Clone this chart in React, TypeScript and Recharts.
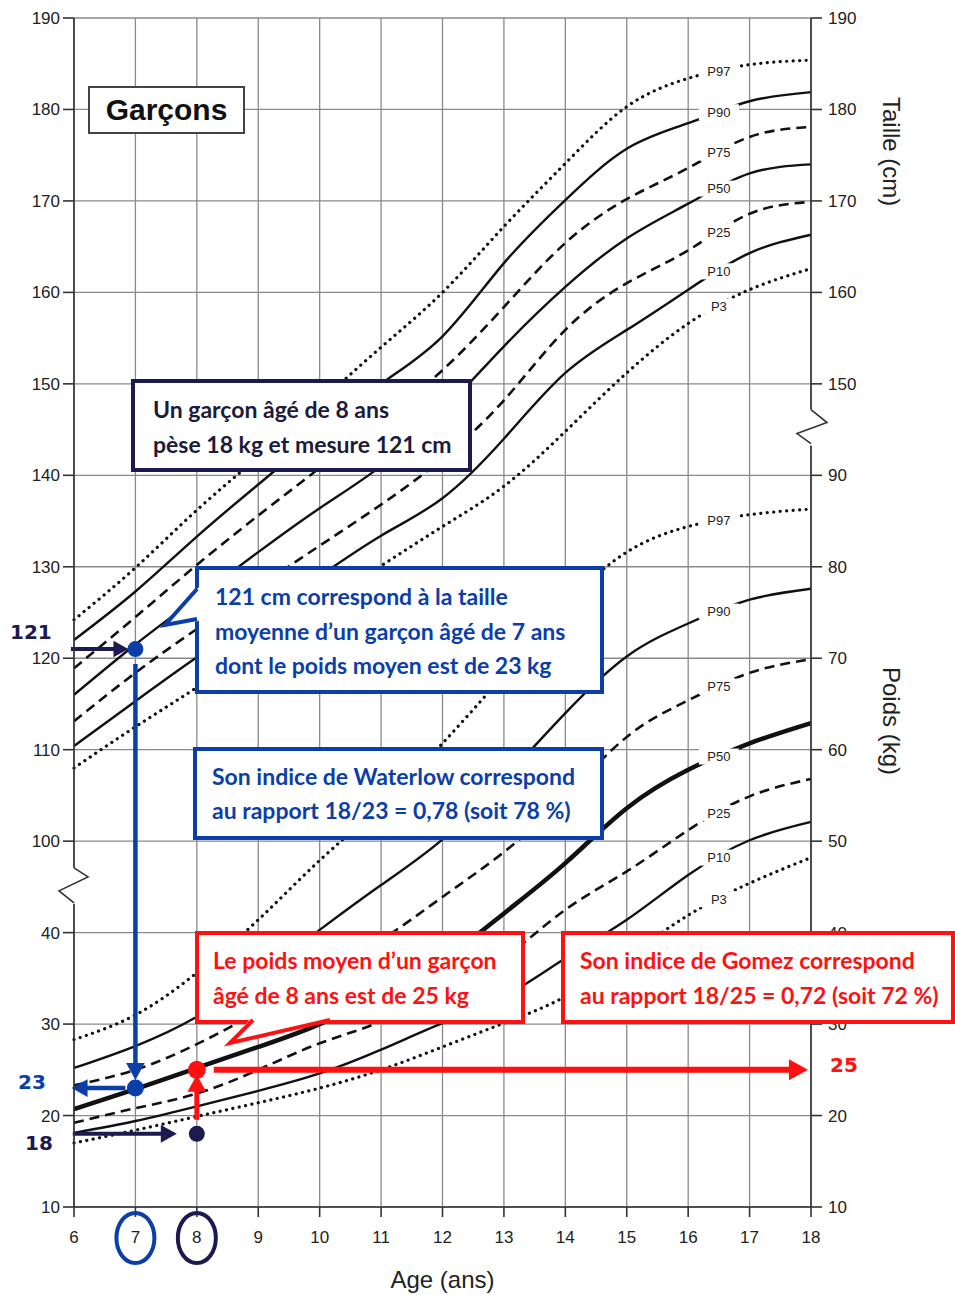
import React from 'react';
import { LineChart, Line, XAxis, YAxis, CartesianGrid, ReferenceLine, ReferenceDot } from 'recharts';

const ages = [6, 7, 8, 9, 10, 11, 12, 13, 14, 15, 16, 17, 18];

const tailleP97 = [124.2, 129.9, 136.2, 142.0, 148.0, 154.0, 160.0, 167.2, 174.1, 180.3, 183.4, 184.9, 185.4];
const tailleP90 = [122.0, 127.3, 133.3, 139.0, 144.6, 150.0, 155.2, 163.2, 170.1, 175.7, 178.5, 180.9, 181.9];
const tailleP75 = [118.9, 124.5, 130.2, 135.6, 140.8, 146.0, 151.5, 158.4, 165.4, 170.2, 173.6, 177.0, 178.1];
const tailleP50 = [116.0, 121.5, 126.6, 131.6, 136.4, 141.0, 147.0, 154.1, 160.6, 165.9, 169.7, 173.0, 174.0];
const tailleP25 = [113.1, 118.4, 123.2, 127.8, 132.3, 136.8, 141.8, 148.2, 155.9, 161.0, 164.6, 168.6, 169.9];
const tailleP10 = [110.4, 115.3, 120.1, 124.6, 129.0, 133.4, 137.5, 144.0, 151.2, 155.9, 160.3, 164.3, 166.3];
const tailleP3 = [108.0, 112.5, 116.8, 121.3, 125.8, 130.1, 134.4, 138.8, 144.8, 151.2, 156.6, 160.3, 162.6];

const poidsP97 = [28.3, 31.0, 35.6, 41.4, 47.9, 53.9, 60.7, 68.2, 75.8, 81.6, 84.4, 85.7, 86.3];
const poidsP90 = [25.2, 27.6, 30.8, 35.3, 40.3, 45.2, 50.2, 56.8, 64.0, 70.2, 73.8, 76.4, 77.6];
const poidsP75 = [23.3, 25.0, 27.8, 31.4, 35.4, 39.2, 43.9, 48.8, 54.8, 61.4, 65.4, 68.4, 69.9];
const poidsP50 = [20.7, 22.9, 25.2, 27.5, 30.0, 33.3, 37.0, 42.1, 47.6, 53.6, 57.8, 60.7, 62.9];
const poidsP25 = [19.2, 20.8, 22.4, 25.0, 27.9, 30.3, 33.7, 37.3, 42.5, 46.7, 51.2, 54.9, 56.8];
const poidsP10 = [18.1, 19.4, 21.0, 22.7, 24.6, 27.2, 30.1, 33.0, 37.2, 41.4, 46.3, 50.1, 52.1];
const poidsP3 = [17.0, 18.4, 19.9, 21.4, 23.0, 25.0, 27.5, 30.1, 33.0, 37.3, 41.9, 45.4, 48.2];

const leftTicks = ['10', '20', '30', '40', '100', '110', '120', '130', '140', '150', '160', '170', '180', '190'];
const rightTicks = ['10', '20', '30', '40', '50', '60', '70', '80', '90', '150', '160', '170', '180', '190'];

// l'exemple
const ageEnfant = 8;
const poidsEnfant = 18;
const tailleEnfant = 121;
const ageTaille = 7;
const poidsAgeTaille = 23;
const poidsMoyenAge = 25;

// the axis is broken: one grid row = 10 units, cm above the break, kg below
const tRow = (cm: number) => (cm - 100) / 10 + 4;
const pRow = (kg: number) => (kg - 10) / 10;

const NAVY = '#1d1a4f';
const BLUE = '#0b3ea8';
const RED = '#ff1111';
const INK = '#111';

type Kind = 'dot' | 'dash' | 'solid' | 'bold';
const series: { key: string; label: string; vals: number[]; kind: Kind; row: (v: number) => number }[] = [
  { key: 't97', label: 'P97', vals: tailleP97, kind: 'dot', row: tRow },
  { key: 't90', label: 'P90', vals: tailleP90, kind: 'solid', row: tRow },
  { key: 't75', label: 'P75', vals: tailleP75, kind: 'dash', row: tRow },
  { key: 't50', label: 'P50', vals: tailleP50, kind: 'solid', row: tRow },
  { key: 't25', label: 'P25', vals: tailleP25, kind: 'dash', row: tRow },
  { key: 't10', label: 'P10', vals: tailleP10, kind: 'solid', row: tRow },
  { key: 't3', label: 'P3', vals: tailleP3, kind: 'dot', row: tRow },
  { key: 'p97', label: 'P97', vals: poidsP97, kind: 'dot', row: pRow },
  { key: 'p90', label: 'P90', vals: poidsP90, kind: 'solid', row: pRow },
  { key: 'p75', label: 'P75', vals: poidsP75, kind: 'dash', row: pRow },
  { key: 'p50', label: 'P50', vals: poidsP50, kind: 'bold', row: pRow },
  { key: 'p25', label: 'P25', vals: poidsP25, kind: 'dash', row: pRow },
  { key: 'p10', label: 'P10', vals: poidsP10, kind: 'solid', row: pRow },
  { key: 'p3', label: 'P3', vals: poidsP3, kind: 'dot', row: pRow },
];

const data = ages.map((age, i) => {
  const d: { [k: string]: number } = { age };
  series.forEach(s => { d[s.key] = s.row(s.vals[i]); });
  return d;
});

const lineStyle = (kind: Kind) => {
  if (kind === 'dot') return { strokeWidth: 3.2, strokeDasharray: '0.1 6.4', strokeLinecap: 'round' as const };
  if (kind === 'dash') return { strokeWidth: 2.6, strokeDasharray: '10 6' };
  if (kind === 'bold') return { strokeWidth: 4.5 };
  return { strokeWidth: 2.4 };
};

const arrow = (color: string, width: number, head: number, trimStart: number, trimEnd: number) => (p: any) => {
  const { x1, y1, x2, y2 } = p;
  const dx = x2 - x1, dy = y2 - y1;
  const len = Math.hypot(dx, dy) || 1;
  const ux = dx / len, uy = dy / len;
  const sx = x1 + ux * trimStart, sy = y1 + uy * trimStart;
  const ex = x2 - ux * trimEnd, ey = y2 - uy * trimEnd;
  const bx = ex - ux * head, by = ey - uy * head;
  const hw = head * 0.55;
  return (
    <g>
      <line x1={sx} y1={sy} x2={bx + ux} y2={by + uy} stroke={color} strokeWidth={width} />
      <polygon points={`${ex},${ey} ${bx - uy * hw},${by + ux * hw} ${bx + uy * hw},${by - ux * hw}`} fill={color} />
    </g>
  );
};

const leftBreak = (p: any) => {
  const { cx, cy } = p;
  return (
    <g>
      <rect x={cx - 5} y={cy - 19} width={10} height={36} fill="#fff" />
      <path d={`M${cx},${cy - 19} L${cx + 14},${cy - 10} L${cx - 15},${cy + 4} L${cx},${cy + 16}`} fill="none" stroke="#333" strokeWidth={1.6} />
    </g>
  );
};

const rightBreak = (p: any) => {
  const { cx, cy } = p;
  return (
    <g>
      <rect x={cx - 5} y={cy - 20} width={10} height={36} fill="#fff" />
      <path d={`M${cx},${cy - 20} L${cx + 16},${cy - 7} L${cx - 14},${cy + 4} L${cx},${cy + 14}`} fill="none" stroke="#333" strokeWidth={1.6} />
    </g>
  );
};

const curveLabel = (text: string) => (p: any) => (
  <g>
    <rect x={p.cx - 20} y={p.cy - 8} width={40} height={16} fill="#fff" />
    <text x={p.cx} y={p.cy} dy="0.36em" textAnchor="middle" fontSize={13} fill="#222">{text}</text>
  </g>
);

const AgeTick = (props: any) => {
  const { x, y, payload } = props;
  const v = payload.value;
  return (
    <g>
      {v === ageTaille && <ellipse cx={x} cy={y + 7} rx={19} ry={25} fill="none" stroke={BLUE} strokeWidth={4} />}
      {v === ageEnfant && <ellipse cx={x} cy={y + 7} rx={19} ry={25} fill="none" stroke={NAVY} strokeWidth={4} />}
      <text x={x} y={y} dy="0.71em" textAnchor="middle" fontSize={17} fill="#222">{v}</text>
    </g>
  );
};

const rows = leftTicks.map((_, i) => i);
const i16 = ages.indexOf(16);

const boxText: React.CSSProperties = {
  position: 'absolute',
  boxSizing: 'border-box',
  background: '#fff',
  fontFamily: 'Lato, "Open Sans", sans-serif',
  fontWeight: 700,
  fontSize: 23,
  whiteSpace: 'nowrap',
};

const bigNum: React.CSSProperties = {
  position: 'absolute',
  fontFamily: '"DejaVu Sans", sans-serif',
  fontWeight: 700,
  fontSize: 20,
  lineHeight: '20px',
};

export default function App() {
  return (
    <div style={{ position: 'absolute', left: 0, top: 0, width: 955, height: 1295, background: '#fff', fontFamily: '"Liberation Sans", Arial, sans-serif' }}>
      <LineChart width={955} height={1295} data={data} margin={{ top: 18, right: 84, bottom: 0, left: 14 }}>
        <CartesianGrid stroke="#8a8a8a" strokeWidth={1.3} />
        <XAxis
          dataKey="age"
          type="number"
          domain={[6, 18]}
          ticks={ages}
          interval={0}
          height={88}
          tickSize={10}
          tickMargin={14}
          axisLine={{ stroke: '#333', strokeWidth: 1.6 }}
          tickLine={{ stroke: '#333', strokeWidth: 1.6 }}
          tick={<AgeTick />}
          label={{ value: 'Age (ans)', position: 'insideBottom', offset: 7, fontSize: 24, fill: '#222' }}
        />
        <YAxis
          type="number"
          domain={[0, 13]}
          ticks={rows}
          interval={0}
          width={60}
          tickSize={11}
          tickMargin={3}
          allowDataOverflow
          axisLine={{ stroke: '#333', strokeWidth: 1.6 }}
          tickLine={{ stroke: '#333', strokeWidth: 1.6 }}
          tick={{ fontSize: 17, fill: '#222' }}
          tickFormatter={(v: number) => leftTicks[v]}
        />
        <YAxis
          yAxisId="r"
          orientation="right"
          type="number"
          domain={[0, 13]}
          ticks={rows}
          interval={0}
          width={60}
          tickSize={11}
          tickMargin={6}
          allowDataOverflow
          axisLine={{ stroke: '#333', strokeWidth: 1.6 }}
          tickLine={{ stroke: '#333', strokeWidth: 1.6 }}
          tick={{ fontSize: 17, fill: '#222' }}
          tickFormatter={(v: number) => rightTicks[v]}
        />

        {series.map(s => (
          <Line
            key={s.key}
            dataKey={s.key}
            type="natural"
            stroke={INK}
            dot={false}
            activeDot={false}
            isAnimationActive={false}
            {...lineStyle(s.kind)}
          />
        ))}

        {series.map(s => (
          <ReferenceDot
            key={'lab' + s.key}
            x={16.5}
            y={s.row((s.vals[i16] + s.vals[i16 + 1]) / 2)}
            r={1}
            ifOverflow="visible"
            shape={curveLabel(s.label)}
          />
        ))}

        <ReferenceDot x={6} y={3.5} r={1} ifOverflow="visible" shape={leftBreak} />
        <ReferenceDot x={18} y={8.5} r={1} ifOverflow="visible" shape={rightBreak} />

        <ReferenceLine
          ifOverflow="visible"
          segment={[{ x: 5.95, y: tRow(tailleEnfant) }, { x: ageTaille, y: tRow(tailleEnfant) }]}
          shape={arrow(NAVY, 4, 15, 0, 7)}
        />
        <ReferenceLine
          ifOverflow="visible"
          segment={[{ x: ageTaille, y: tRow(tailleEnfant) }, { x: ageTaille, y: pRow(poidsAgeTaille) }]}
          shape={arrow(BLUE, 4.5, 17, 15, 8)}
        />
        <ReferenceLine
          ifOverflow="visible"
          segment={[{ x: ageTaille, y: pRow(poidsAgeTaille) }, { x: 5.96, y: pRow(poidsAgeTaille) }]}
          shape={arrow(BLUE, 4.5, 16, 10, 0)}
        />
        <ReferenceLine
          ifOverflow="visible"
          segment={[{ x: 5.98, y: pRow(poidsEnfant) }, { x: ageEnfant, y: pRow(poidsEnfant) }]}
          shape={arrow(NAVY, 4, 16, 0, 20)}
        />
        <ReferenceLine
          ifOverflow="visible"
          segment={[{ x: ageEnfant, y: pRow(poidsEnfant) }, { x: ageEnfant, y: pRow(poidsMoyenAge) }]}
          shape={arrow(RED, 5, 17, 14, 5)}
        />
        <ReferenceLine
          ifOverflow="visible"
          segment={[{ x: ageEnfant, y: pRow(poidsMoyenAge) }, { x: 17.95, y: pRow(poidsMoyenAge) }]}
          shape={arrow(RED, 6, 19, 17, 0)}
        />

        <ReferenceDot x={ageTaille} y={tRow(tailleEnfant)} r={8} fill={BLUE} stroke="none" ifOverflow="visible" />
        <ReferenceDot x={ageTaille} y={pRow(poidsAgeTaille)} r={8.5} fill={BLUE} stroke="none" ifOverflow="visible" />
        <ReferenceDot x={ageEnfant} y={pRow(poidsEnfant)} r={8} fill={NAVY} stroke="none" ifOverflow="visible" />
        <ReferenceDot x={ageEnfant} y={pRow(poidsMoyenAge)} r={9} fill={RED} stroke="none" ifOverflow="visible" />
      </LineChart>

      <div style={{ position: 'absolute', left: 879, top: 97, writingMode: 'vertical-rl', fontSize: 24, lineHeight: '24px', color: '#222' }}>Taille (cm)</div>
      <div style={{ position: 'absolute', left: 879, top: 667, writingMode: 'vertical-rl', fontSize: 24, lineHeight: '24px', color: '#222' }}>Poids (kg)</div>

      <div style={{ position: 'absolute', left: 88, top: 86, width: 157, height: 48, boxSizing: 'border-box', border: '2px solid #444', background: '#fff', fontWeight: 700, fontSize: 30, lineHeight: '44px', textAlign: 'center', color: '#111' }}>Garçons</div>

      <div style={{ ...boxText, left: 131, top: 379, width: 341, height: 93, border: `4px solid ${NAVY}`, color: '#1c1b3c', padding: '9px 0 0 18px', lineHeight: '35px' }}>
        <div>Un garçon âgé de 8 ans</div>
        <div>pèse 18 kg et mesure 121 cm</div>
      </div>

      <div style={{ ...boxText, left: 195, top: 566, width: 409, height: 128, border: `4px solid ${BLUE}`, color: BLUE, padding: '9px 0 0 16px', lineHeight: '34.5px' }}>
        <div>121 cm correspond à la taille</div>
        <div>moyenne d’un garçon âgé de 7 ans</div>
        <div>dont le poids moyen est de 23 kg</div>
      </div>

      <div style={{ ...boxText, left: 193, top: 747, width: 411, height: 93, border: `4px solid ${BLUE}`, color: BLUE, padding: '8px 0 0 15px', lineHeight: '34px' }}>
        <div>Son indice de Waterlow correspond</div>
        <div>au rapport 18/23 = 0,78 (soit 78 %)</div>
      </div>

      <div style={{ ...boxText, left: 195, top: 931, width: 330, height: 93, border: `4px solid ${RED}`, color: RED, padding: '8px 0 0 14px', lineHeight: '35px' }}>
        <div>Le poids moyen d’un garçon</div>
        <div>âgé de 8 ans est de 25 kg</div>
      </div>

      <div style={{ ...boxText, left: 561, top: 931, width: 394, height: 93, border: `4px solid ${RED}`, color: RED, padding: '8px 0 0 15px', lineHeight: '35px' }}>
        <div>Son indice de Gomez correspond</div>
        <div>au rapport 18/25 = 0,72 (soit 72 %)</div>
      </div>

      <svg width={955} height={1295} style={{ position: 'absolute', left: 0, top: 0, pointerEvents: 'none' }}>
        <polygon points="199,587 165,625 199,621" fill="#fff" />
        <polyline points="197,589 165,625 197,619" fill="none" stroke={BLUE} strokeWidth={4} />
        <polygon points="251,1018 230,1043 332,1018" fill="#fff" />
        <polyline points="253,1020 230,1043 330,1020" fill="none" stroke={RED} strokeWidth={4} />
      </svg>

      <div style={{ ...bigNum, left: 10, top: 622, color: NAVY }}>121</div>
      <div style={{ ...bigNum, left: 18, top: 1072, color: BLUE }}>23</div>
      <div style={{ ...bigNum, left: 25, top: 1133, color: NAVY }}>18</div>
      <div style={{ ...bigNum, left: 830, top: 1055, color: RED }}>25</div>
    </div>
  );
}
